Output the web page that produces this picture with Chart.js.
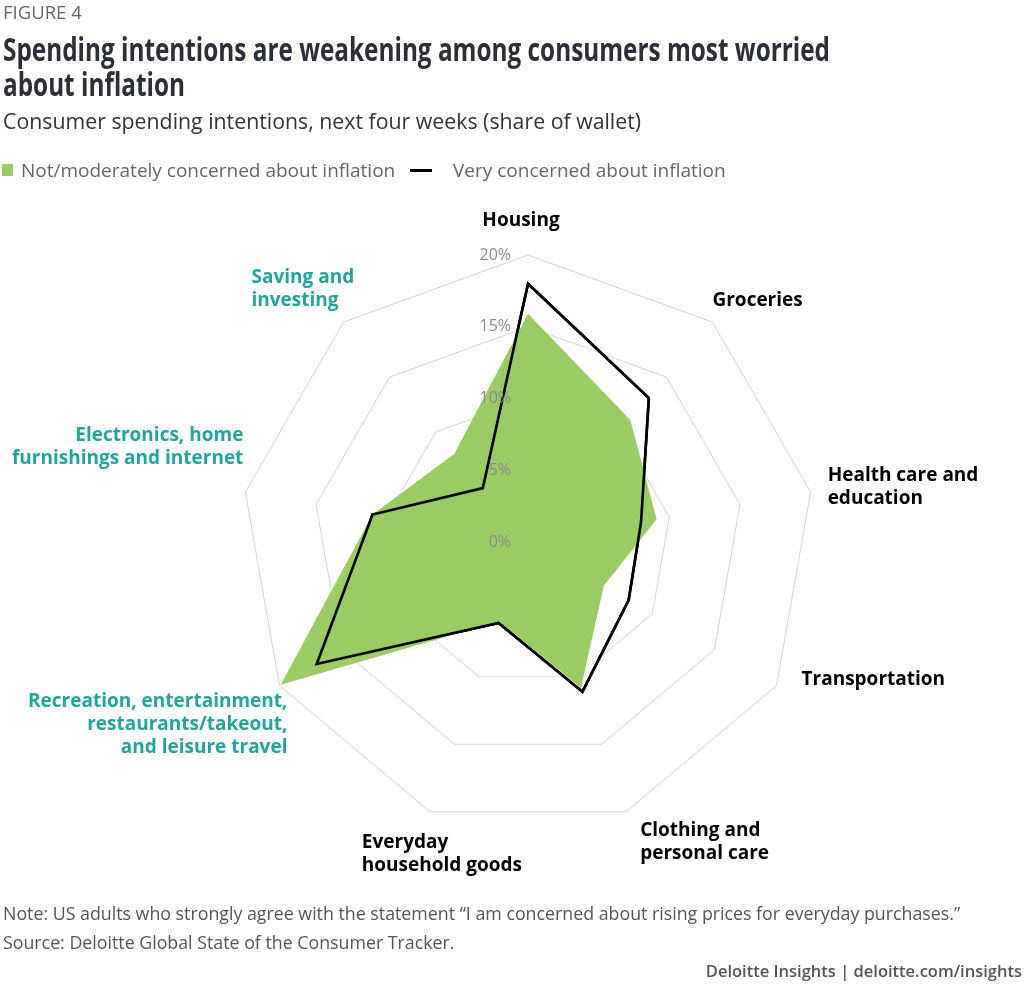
<!DOCTYPE html>
<html>
<head>
<meta charset="utf-8">
<script src="https://cdn.jsdelivr.net/npm/chart.js@4.4.1/dist/chart.umd.min.js"></script>
<style>
  html, body { margin: 0; padding: 0; background: #fff; }
  body { width: 1024px; height: 986px; position: relative; overflow: hidden; font-family: "Open Sans", "Noto Sans", sans-serif; }
  #myChart { position: absolute; left: 0; top: 0; }
  .txt { position: absolute; white-space: nowrap; }
  #fig { left: 3px; top: 0; font-size: 18.5px; line-height: 24px; color: #666; }
  #title { left: 3px; top: 31px; font-size: 32px; font-weight: 700; line-height: 35px; color: #2e2e38; transform: scaleX(0.76); transform-origin: left top; }
  #subtitle { left: 3px; top: 106px; font-size: 21.3px; line-height: 30px; color: #333; }
  .leg { top: 157px; font-size: 19px; line-height: 26px; color: #666; }
  #legSq { position: absolute; left: 2px; top: 164px; width: 11px; height: 12px; background: #9bcb65; }
  #legLine { position: absolute; left: 410px; top: 169px; width: 22px; height: 3px; background: #000; }
  .note { left: 3px; font-size: 17.8px; line-height: 24px; color: #555; }
  #credit { right: 2px; top: 959px; font-size: 16.5px; font-weight: 600; line-height: 24px; color: #555; }
</style>
</head>
<body>
<canvas id="myChart" width="1024" height="986"></canvas>
<div class="txt" id="fig">FIGURE 4</div>
<div class="txt" id="title">Spending intentions are weakening among consumers most worried<br>about inflation</div>
<div class="txt" id="subtitle">Consumer spending intentions, next four weeks (share of wallet)</div>
<div id="legSq"></div>
<div class="txt leg" style="left:21px">Not/moderately concerned about inflation</div>
<div id="legLine"></div>
<div class="txt leg" style="left:453px">Very concerned about inflation</div>
<div class="txt note" style="top:901px">Note: US adults who strongly agree with the statement “I am concerned about rising prices for everyday purchases.”</div>
<div class="txt note" style="top:930px">Source: Deloitte Global State of the Consumer Tracker.</div>
<div class="txt" id="credit">Deloitte Insights | deloitte.com/insights</div>

<script>
// categories, clockwise from the top
const categories = [
    ['Housing'],
    ['Groceries'],
    ['Health care and', 'education'],
    ['Transportation'],
    ['Clothing and', 'personal care'],
    ['Everyday', 'household goods'],
    ['Recreation, entertainment,', 'restaurants/takeout,', 'and leisure travel'],
    ['Electronics, home', 'furnishings and internet'],
    ['Saving and', 'investing']
];
const notConcerned = [15.9, 11.1, 9.1, 6.1, 10.8, 5.9, 19.9, 11.0, 8.0];
const veryConcerned = [18.0, 13.1, 8.0, 8.1, 11.1, 6.0, 17.0, 11.0, 4.9];
const tickValues = [0, 5, 10, 15, 20];

const GREEN = '#9bcb65';
const TEAL = '#23a49b';

// where each category label sits, relative to the outer ring corner
const labelLayout = [
    { align: 'center', dx: -7, dy: -34, color: '#000' },
    { align: 'left', dx: 0, dy: -22, color: '#000' },
    { align: 'left', dx: 17, dy: -17, color: '#000' },
    { align: 'left', dx: 25, dy: -6, color: '#000' },
    { align: 'left', dx: 14, dy: 19, color: '#000' },
    { align: 'left', dx: -68, dy: 31, color: '#000' },
    { align: 'right', dx: 8, dy: 16, color: TEAL },
    { align: 'right', dx: -2, dy: -57, color: TEAL },
    { align: 'left', dx: -92, dy: -45, color: TEAL }
];

const labelsPlugin = {
    id: 'radarLabels',
    afterDraw(chart) {
        const ctx = chart.ctx;
        const scale = chart.scales.r;

        // black outline back on top of the grid
        ctx.save();
        chart.getDatasetMeta(1).controller.draw();
        ctx.restore();

        // tick labels, right aligned just left of the top axis
        ctx.save();
        ctx.font = '16px "Open Sans"';
        ctx.fillStyle = '#8c8c8c';
        ctx.textAlign = 'right';
        ctx.textBaseline = 'middle';
        tickValues.forEach(v => {
            const d = scale.getDistanceFromCenterForValue(v);
            ctx.fillText(v + '%', scale.xCenter - 17, scale.yCenter - d);
        });
        ctx.restore();

        // category labels
        ctx.save();
        ctx.font = 'bold 19px "Open Sans"';
        ctx.textBaseline = 'middle';
        categories.forEach((lines, i) => {
            const lay = labelLayout[i];
            const p = scale.getPointPosition(i, scale.drawingArea);
            ctx.fillStyle = lay.color;
            ctx.textAlign = lay.align;
            lines.forEach((line, j) => {
                ctx.fillText(line, p.x + lay.dx, p.y + lay.dy + j * 23);
            });
        });
        ctx.restore();
    }
};

const ctx = document.getElementById('myChart').getContext('2d');
window.myChart = new Chart(ctx, {
    type: 'radar',
    data: {
        labels: categories,
        datasets: [{
            label: 'Not/moderately concerned about inflation',
            data: notConcerned,
            backgroundColor: GREEN,
            borderColor: GREEN,
            borderWidth: 0,
            fill: true,
            pointRadius: 0,
            tension: 0
        }, {
            label: 'Very concerned about inflation',
            data: veryConcerned,
            backgroundColor: 'rgba(0,0,0,0)',
            borderColor: '#000',
            borderWidth: 2.6,
            fill: false,
            pointRadius: 0,
            tension: 0
        }]
    },
    options: {
        responsive: false,
        animation: false,
        layout: {
            padding: { left: 241, top: 255, right: 209, bottom: 157 }
        },
        plugins: {
            legend: { display: false },
            title: { display: false },
            tooltip: { enabled: false }
        },
        scales: {
            r: {
                z: 1,
                min: 0,
                max: 20,
                startAngle: 0,
                ticks: { display: false, stepSize: 5 },
                grid: { color: '#d6d6d6', lineWidth: 1 },
                angleLines: { display: false },
                pointLabels: { display: false }
            }
        }
    },
    plugins: [labelsPlugin]
});
</script>
</body>
</html>
